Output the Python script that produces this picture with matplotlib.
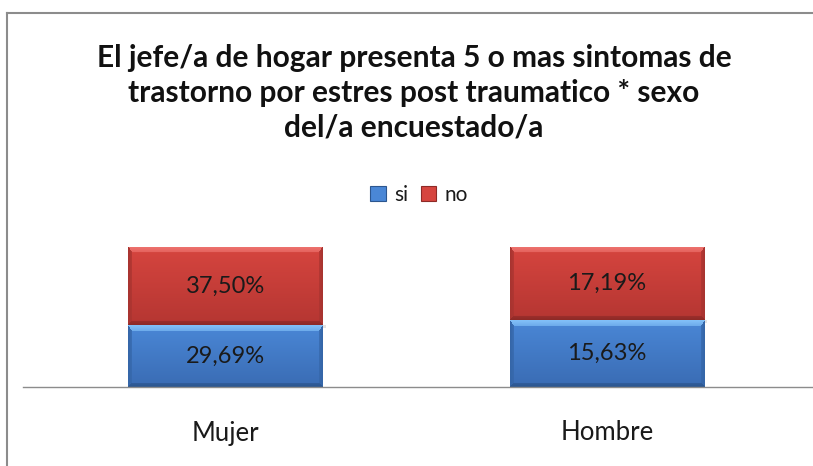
import numpy as np
import matplotlib
matplotlib.use("Agg")
import matplotlib.pyplot as plt
from matplotlib.lines import Line2D
from matplotlib.patches import Patch
import matplotlib.transforms as mtransforms
from matplotlib.colors import to_rgb

# ---- data ----
categories = ["Mujer", "Hombre"]
series_names = ["si", "no"]
si_values = [29.69, 15.63]
no_values = [37.50, 17.19]
title = "El jefe/a de hogar presenta 5 o mas sintomas de\ntrastorno por estres post traumatico * sexo\ndel/a encuestado/a"

FONT = ["Lato", "DejaVu Sans"]
plt.rcParams["font.family"] = FONT

W, H = 813, 466
fig = plt.figure(figsize=(W / 100, H / 100), dpi=100)
fig.patch.set_facecolor("white")

# axes placement in pixels
ax_l, ax_r, ax_b, ax_t = 23, 813, 387, 247
ax = fig.add_axes([ax_l / W, 1 - ax_b / H, (ax_r - ax_l) / W, (ax_b - ax_t) / H])
ax.set_xlim(-0.531, 1.540)
ax.set_ylim(0, 1)
ax.set_facecolor("none")

x = np.arange(len(categories))
si = np.array(si_values)
no = np.array(no_values)
tot = si + no
si_f = si / tot
no_f = no / tot
bw = 0.511

blue = dict(top="#4a87d6", bottom="#3a6cb4", light="#82c0f8", dark="#2c568f", side="#3566a8")
red = dict(top="#d6453f", bottom="#b53632", light="#ee7470", dark="#8e2a27", side="#a83430")

bars_si = ax.bar(x, si_f, bw, color=blue["top"], linewidth=0, zorder=2)
bars_no = ax.bar(x, no_f, bw, bottom=si_f, color=red["top"], linewidth=0, zorder=2)


def bevel(patch, c):
    x0, y0 = patch.get_x(), patch.get_y()
    w, h = patch.get_width(), patch.get_height()
    p0 = ax.transData.transform((x0, y0))
    p1 = ax.transData.transform((x0 + w, y0 + h))
    nx = max(int(round(abs(p1[0] - p0[0]))), 2)
    ny = max(int(round(abs(p1[1] - p0[1]))), 2)
    top = np.array(to_rgb(c["top"]))
    bot = np.array(to_rgb(c["bottom"]))
    light = np.array(to_rgb(c["light"]))
    dark = np.array(to_rgb(c["dark"]))
    side = np.array(to_rgb(c["side"]))
    t = np.linspace(0, 1, ny)[:, None, None]
    arr = top * (1 - t) + bot * t
    arr = np.broadcast_to(arr, (ny, nx, 3)).copy()
    jj, ii = np.meshgrid(np.arange(nx), np.arange(ny))
    dt = ii.astype(float)
    db = (ny - 1 - ii).astype(float)
    dl = jj.astype(float)
    dr = (nx - 1 - jj).astype(float)
    bt, bb, bs = 6.0, 4.0, 4.0
    nt, nb, nl, nr = dt / bt, db / bb, dl / bs, dr / bs
    stack = np.stack([nt, nb, nl, nr])
    which = np.argmin(stack, axis=0)
    mn = np.min(stack, axis=0)
    inside = mn < 1
    cols = [light, dark, side, side]
    for k in range(4):
        m = inside & (which == k)
        a = (1 - mn[m] * 0.4)[:, None]
        arr[m] = arr[m] * (1 - a) + cols[k] * a
    ax.imshow(arr, extent=(x0, x0 + w, y0, y0 + h), origin="upper",
              aspect="auto", interpolation="bilinear", zorder=2.5)
    # soft shadow
    off = ax.transData.inverted()
    s0 = off.transform((p0[0] + 2, p0[1] - 3))
    s1 = off.transform((p1[0] + 3, p0[1]))
    ax.fill_between([s0[0], s1[0]], s0[1], s1[1], color="#d0d0d0", alpha=0.6,
                    zorder=1.5, linewidth=0)


for b in bars_si:
    bevel(b, blue)
for b in bars_no:
    bevel(b, red)

ax.set_xlim(-0.531, 1.540)
ax.set_ylim(0, 1)


def fmt(v):
    return f"{v:.2f}".replace(".", ",") + "%"


for i in range(len(categories)):
    ax.text(x[i], si_f[i] / 2, fmt(si[i]), ha="center", va="center",
            fontsize=17, color="#1a1a1a", zorder=4)
    ax.text(x[i], si_f[i] + no_f[i] / 2, fmt(no[i]), ha="center", va="center",
            fontsize=17, color="#1a1a1a", zorder=4)

# axis
for s in ["top", "right", "left"]:
    ax.spines[s].set_visible(False)
ax.spines["bottom"].set_color("#8c8c8c")
ax.spines["bottom"].set_linewidth(1.0)
ax.spines["bottom"].set_zorder(3)
ax.set_yticks([])
ax.set_xticks([])
trans = mtransforms.blended_transform_factory(ax.transData, ax.transAxes)
for i, c in enumerate(categories):
    ax.text(x[i], -46 / (ax_b - ax_t), c, transform=trans, ha="center",
            va="center", fontsize=18.5, color="#1a1a1a")

# title
fig.text(414 / W, 1 - 93 / H, title, ha="center", va="center", fontsize=21.5,
         fontweight="bold", color="#111111", linespacing=1.3)

# legend
handles = [Patch(facecolor=blue["top"], edgecolor=blue["dark"], linewidth=0.8),
           Patch(facecolor=red["top"], edgecolor=red["dark"], linewidth=0.8)]
fig.legend(handles, series_names, loc="center", bbox_to_anchor=(419 / W, 1 - 195 / H),
           ncol=2, frameon=False, fontsize=15, handlelength=0.75, handleheight=0.75,
           handletextpad=0.4, columnspacing=0.6, labelcolor="#1a1a1a")

# outer border (cropped chart frame)
fig.add_artist(Line2D([6.5 / W, 6.5 / W], [0, 1 - 12.5 / H], transform=fig.transFigure,
                      color="#8c8c8c", linewidth=1.5))
fig.add_artist(Line2D([6.5 / W, 1], [1 - 12.5 / H, 1 - 12.5 / H], transform=fig.transFigure,
                      color="#8c8c8c", linewidth=1.5))

fig.savefig("out.png", dpi=100)
